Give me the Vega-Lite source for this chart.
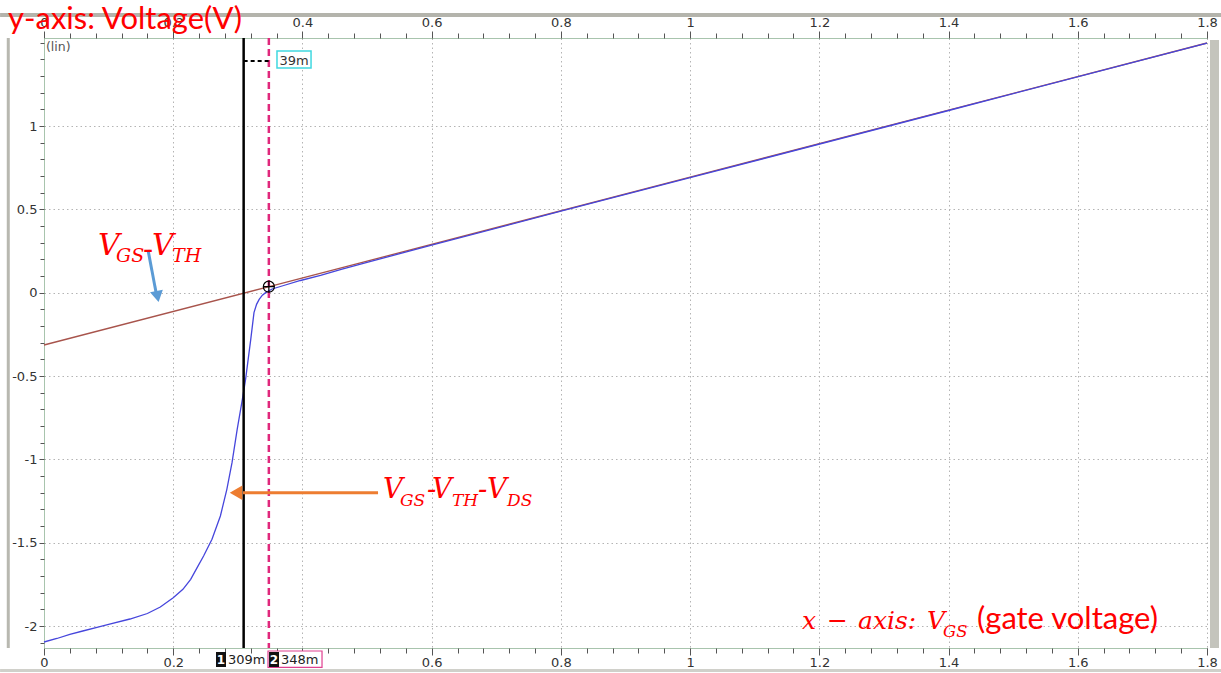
{
  "$schema": "https://vega.github.io/schema/vega-lite/v6.json",
  "width": 1163,
  "height": 610,
  "padding": {"left": 44, "top": 38, "right": 14, "bottom": 25},
  "autosize": {"type": "none"},
  "background": "white",
  "config": {
    "view": {"stroke": null},
    "axis": {"labelFont": "DejaVu Sans", "labelFontSize": 13, "labelColor": "#333333", "tickColor": "#555555", "domainColor": "#a8c4ad", "gridColor": "#b4b4b4", "gridDash": [1.5, 3], "labelFlush": false, "labelOverlap": false}
  },
  "datasets": {
    "red": [{"x": 0, "y": -0.314}, {"x": 0.35, "y": 0.038}, {"x": 1.0, "y": 0.693}, {"x": 1.8, "y": 1.498}],
    "blue": [
      {"x": 0, "y": -2.096}, {"x": 0.02, "y": -2.075}, {"x": 0.04, "y": -2.05}, {"x": 0.06, "y": -2.03}, {"x": 0.082, "y": -2.008}, {"x": 0.1, "y": -1.99}, {"x": 0.133, "y": -1.958}, {"x": 0.16, "y": -1.925}, {"x": 0.18, "y": -1.886}, {"x": 0.2, "y": -1.83}, {"x": 0.215, "y": -1.78}, {"x": 0.227, "y": -1.72}, {"x": 0.237, "y": -1.65}, {"x": 0.247, "y": -1.58}, {"x": 0.26, "y": -1.48}, {"x": 0.273, "y": -1.34}, {"x": 0.283, "y": -1.18}, {"x": 0.291, "y": -1.02}, {"x": 0.299, "y": -0.82}, {"x": 0.307, "y": -0.64}, {"x": 0.312, "y": -0.52}, {"x": 0.316, "y": -0.4}, {"x": 0.32, "y": -0.28}, {"x": 0.325, "y": -0.12}, {"x": 0.329, "y": -0.07}, {"x": 0.333, "y": -0.04}, {"x": 0.338, "y": -0.015}, {"x": 0.343, "y": 0.0}, {"x": 0.353, "y": 0.022}, {"x": 0.371, "y": 0.043}, {"x": 0.397, "y": 0.073}, {"x": 0.428, "y": 0.104}, {"x": 0.46, "y": 0.14}, {"x": 0.5, "y": 0.182}, {"x": 0.6, "y": 0.285}, {"x": 0.8, "y": 0.489}, {"x": 1.0, "y": 0.69}, {"x": 1.4, "y": 1.093}, {"x": 1.8, "y": 1.497}
    ],
    "cur1": [{"x": 0.309}],
    "cur2": [{"x": 0.348}],
    "delta": [{"x": 0.309, "x2": 0.348, "y": 1.39, "y2": 1.39}],
    "deltaBox": [{"x": 0.3606, "x2": 0.4133, "y": 1.45, "y2": 1.348}],
    "deltaText": [{"x": 0.387, "y": 1.365, "t": "39m"}],
    "marker": [{"x": 0.348, "y": 0.036}],
    "lin": [{"x": 0.003, "y": 1.45, "t": "(lin)"}],
    "frameTop": [{"x": -0.068, "x2": 1.822, "y": 1.666, "y2": 1.666}],
    "frameBottom": [{"x": -0.068, "x2": 1.822, "y": -2.267, "y2": -2.267}],
    "frameLeft": [{"x": -0.0553, "x2": -0.0553, "y": 1.528, "y2": -2.132}],
    "frameRight": [{"x": 1.8116, "x2": 1.8116, "y": 1.516, "y2": -2.132}],
    "blueShaft": [{"x": 0.161, "x2": 0.1733, "y": 0.256, "y2": 0.004}],
    "blueHead": [{"x": 0.1757, "y": -0.023}],
    "orangeShaft": [{"x": 0.308, "x2": 0.517, "y": -1.2, "y2": -1.2}],
    "orangeHead": [{"x": 0.2972, "y": -1.2}],
    "t1main": [{"x": 0.0836, "y": 0.226, "t": "V"}, {"x": 0.1672, "y": 0.226, "t": "V"}],
    "t1dash": [{"x": 0.1532, "y": 0.202, "t": "-"}],
    "t1sub": [{"x": 0.1114, "y": 0.184, "t": "GS"}, {"x": 0.1981, "y": 0.184, "t": "TH"}],
    "t2main": [{"x": 0.5247, "y": -1.232, "t": "V"}, {"x": 0.5928, "y": -1.232, "t": "-"}, {"x": 0.6005, "y": -1.232, "t": "V"}, {"x": 0.6717, "y": -1.232, "t": "-"}, {"x": 0.6857, "y": -1.232, "t": "V"}],
    "t2sub": [{"x": 0.551, "y": -1.278, "t": "GS"}, {"x": 0.6315, "y": -1.278, "t": "TH"}, {"x": 0.7166, "y": -1.278, "t": "DS"}],
    "t3main": [{"x": 1.1732, "y": -2.02, "t": "x"}, {"x": 1.2119, "y": -2.02, "t": "−"}, {"x": 1.2599, "y": -2.02, "t": "axis:"}, {"x": 1.3667, "y": -2.02, "t": "V"}],
    "t3sub": [{"x": 1.3914, "y": -2.064, "t": "GS"}],
    "t3sans": [{"x": 1.444, "y": -2.02, "t": "(gate voltage)"}],
    "title": [{"x": -0.0557, "y": 1.58, "t": "y-axis: Voltage(V)"}],
    "curBoxBlack": [{"x": 0.2662, "x2": 0.2817, "y": -2.156, "y2": -2.246}, {"x": 0.3483, "x2": 0.3637, "y": -2.156, "y2": -2.246}],
    "curBoxPink": [{"x": 0.3467, "x2": 0.4303, "y": -2.15, "y2": -2.248}],
    "curNum": [{"x": 0.274, "y": -2.228, "t": "1"}, {"x": 0.356, "y": -2.228, "t": "2"}],
    "curVal": [{"x": 0.2848, "y": -2.228, "t": "309m"}, {"x": 0.3668, "y": -2.228, "t": "348m"}]
  },
  "layer": [
    {"data": {"name": "frameTop"}, "mark": {"type": "rule", "color": "#b4b4ac", "strokeWidth": 4},
     "encoding": {"x": {"field": "x", "type": "quantitative", "scale": {"domain": [0, 1.8], "nice": false, "zero": false}, "axis": null}, "x2": {"field": "x2"}, "y": {"field": "y", "type": "quantitative", "scale": {"domain": [-2.132, 1.528], "nice": false, "zero": false}, "axis": null}, "y2": {"field": "y2"}}},
    {"data": {"name": "frameBottom"}, "mark": {"type": "rule", "color": "#d0d0ca", "strokeWidth": 3},
     "encoding": {"x": {"field": "x", "type": "quantitative", "axis": null}, "x2": {"field": "x2"}, "y": {"field": "y", "type": "quantitative", "axis": null}, "y2": {"field": "y2"}}},
    {"data": {"name": "frameLeft"}, "mark": {"type": "rule", "color": "#b8b8b0", "strokeWidth": 3},
     "encoding": {"x": {"field": "x", "type": "quantitative", "axis": null}, "x2": {"field": "x2"}, "y": {"field": "y", "type": "quantitative", "axis": null}, "y2": {"field": "y2"}}},
    {"data": {"name": "frameRight"}, "mark": {"type": "rule", "color": "#c4c4bc", "strokeWidth": 9},
     "encoding": {"x": {"field": "x", "type": "quantitative", "axis": null}, "x2": {"field": "x2"}, "y": {"field": "y", "type": "quantitative", "axis": null}, "y2": {"field": "y2"}}},
    {"data": {"name": "red"}, "mark": {"type": "line", "color": "#a8544c", "strokeWidth": 1.3},
     "encoding": {
       "x": {"field": "x", "type": "quantitative", "scale": {"domain": [0, 1.8], "nice": false, "zero": false},
             "axis": {"orient": "bottom", "values": [0, 0.2, 0.4, 0.6, 0.8, 1, 1.2, 1.4, 1.6, 1.8], "labelExpr": "datum.value == 0.4 ? '' : '' + datum.value", "grid": true, "tickSize": 7, "labelPadding": 1, "title": null}},
       "y": {"field": "y", "type": "quantitative", "scale": {"domain": [-2.132, 1.528], "nice": false, "zero": false},
             "axis": {"orient": "left", "values": [-2, -1.5, -1, -0.5, 0, 0.5, 1], "labelExpr": "'' + datum.value", "grid": true, "tickSize": 5, "labelPadding": 2, "title": null}}}},
    {"data": {"name": "blue"}, "mark": {"type": "line", "color": "#4646dc", "strokeWidth": 1.3},
     "encoding": {
       "x": {"field": "x", "type": "quantitative",
             "axis": {"orient": "bottom", "values": [0, 0.04, 0.08, 0.12, 0.16, 0.2, 0.24, 0.28, 0.32, 0.36, 0.4, 0.44, 0.48, 0.52, 0.56, 0.6, 0.64, 0.68, 0.72, 0.76, 0.8, 0.84, 0.88, 0.92, 0.96, 1, 1.04, 1.08, 1.12, 1.16, 1.2, 1.24, 1.28, 1.32, 1.36, 1.4, 1.44, 1.48, 1.52, 1.56, 1.6, 1.64, 1.68, 1.72, 1.76, 1.8], "labels": false, "grid": false, "domain": false, "tickSize": 5, "title": null}},
       "y": {"field": "y", "type": "quantitative",
             "axis": {"orient": "left", "values": [-2.1, -2, -1.9, -1.8, -1.7, -1.6, -1.5, -1.4, -1.3, -1.2, -1.1, -1, -0.9, -0.8, -0.7, -0.6, -0.5, -0.4, -0.3, -0.2, -0.1, 0, 0.1, 0.2, 0.3, 0.4, 0.5, 0.6, 0.7, 0.8, 0.9, 1, 1.1, 1.2, 1.3, 1.4, 1.5], "labels": false, "grid": false, "domain": false, "tickSize": 4, "title": null}}}},
    {"data": {"name": "cur1"}, "mark": {"type": "rule", "color": "#000000", "strokeWidth": 2.5},
     "encoding": {"x": {"field": "x", "type": "quantitative",
       "axis": {"orient": "top", "values": [0, 0.2, 0.4, 0.6, 0.8, 1, 1.2, 1.4, 1.6, 1.8], "labelExpr": "'' + datum.value", "grid": false, "tickSize": 7, "labelPadding": 2, "title": null}}}},
    {"data": {"name": "cur2"}, "mark": {"type": "rule", "color": "#e0287c", "strokeWidth": 2.5, "strokeDash": [7, 4]},
     "encoding": {"x": {"field": "x", "type": "quantitative",
       "axis": {"orient": "top", "values": [0, 0.04, 0.08, 0.12, 0.16, 0.2, 0.24, 0.28, 0.32, 0.36, 0.4, 0.44, 0.48, 0.52, 0.56, 0.6, 0.64, 0.68, 0.72, 0.76, 0.8, 0.84, 0.88, 0.92, 0.96, 1, 1.04, 1.08, 1.12, 1.16, 1.2, 1.24, 1.28, 1.32, 1.36, 1.4, 1.44, 1.48, 1.52, 1.56, 1.6, 1.64, 1.68, 1.72, 1.76, 1.8], "labels": false, "grid": false, "domain": false, "tickSize": 5, "title": null}}}},
    {"data": {"name": "delta"}, "mark": {"type": "rule", "color": "#000000", "strokeWidth": 2, "strokeDash": [4, 3]},
     "encoding": {"x": {"field": "x", "type": "quantitative", "axis": null}, "x2": {"field": "x2"}, "y": {"field": "y", "type": "quantitative", "axis": null}, "y2": {"field": "y2"}}},
    {"data": {"name": "deltaBox"}, "mark": {"type": "rect", "fill": "white", "stroke": "#40d8e0", "strokeWidth": 1.5},
     "encoding": {"x": {"field": "x", "type": "quantitative", "axis": null}, "x2": {"field": "x2"}, "y": {"field": "y", "type": "quantitative", "axis": null}, "y2": {"field": "y2"}}},
    {"data": {"name": "deltaText"}, "mark": {"type": "text", "font": "DejaVu Sans", "fontSize": 13, "color": "#333333", "align": "center", "baseline": "alphabetic"},
     "encoding": {"x": {"field": "x", "type": "quantitative", "axis": null}, "y": {"field": "y", "type": "quantitative", "axis": null}, "text": {"field": "t"}}},
    {"data": {"name": "lin"}, "mark": {"type": "text", "font": "DejaVu Sans", "fontSize": 12.5, "color": "#555555", "align": "left", "baseline": "alphabetic"},
     "encoding": {"x": {"field": "x", "type": "quantitative", "axis": null}, "y": {"field": "y", "type": "quantitative", "axis": null}, "text": {"field": "t"}}},
    {"data": {"name": "marker"}, "mark": {"type": "point", "shape": "circle", "filled": false, "stroke": "#000000", "strokeWidth": 1.2, "size": 121, "opacity": 1},
     "encoding": {"x": {"field": "x", "type": "quantitative", "axis": null}, "y": {"field": "y", "type": "quantitative", "axis": null}}},
    {"data": {"name": "marker"}, "mark": {"type": "point", "shape": "M-1,0H1M0,-1V1", "filled": false, "stroke": "#000000", "strokeWidth": 1.2, "size": 121, "opacity": 1},
     "encoding": {"x": {"field": "x", "type": "quantitative", "axis": null}, "y": {"field": "y", "type": "quantitative", "axis": null}}},
    {"data": {"name": "blueShaft"}, "mark": {"type": "rule", "color": "#5b9bd5", "strokeWidth": 3},
     "encoding": {"x": {"field": "x", "type": "quantitative", "axis": null}, "x2": {"field": "x2"}, "y": {"field": "y", "type": "quantitative", "axis": null}, "y2": {"field": "y2"}}},
    {"data": {"name": "blueHead"}, "mark": {"type": "point", "shape": "triangle-down", "filled": true, "color": "#5b9bd5", "size": 170, "angle": 349, "opacity": 1},
     "encoding": {"x": {"field": "x", "type": "quantitative", "axis": null}, "y": {"field": "y", "type": "quantitative", "axis": null}}},
    {"data": {"name": "orangeShaft"}, "mark": {"type": "rule", "color": "#ed7d31", "strokeWidth": 3},
     "encoding": {"x": {"field": "x", "type": "quantitative", "axis": null}, "x2": {"field": "x2"}, "y": {"field": "y", "type": "quantitative", "axis": null}, "y2": {"field": "y2"}}},
    {"data": {"name": "orangeHead"}, "mark": {"type": "point", "shape": "triangle-left", "filled": true, "color": "#ed7d31", "size": 210, "opacity": 1},
     "encoding": {"x": {"field": "x", "type": "quantitative", "axis": null}, "y": {"field": "y", "type": "quantitative", "axis": null}}},
    {"data": {"name": "t1main"}, "mark": {"type": "text", "font": "DejaVu Serif", "fontStyle": "italic", "fontSize": 30, "color": "#ff0000", "align": "left", "baseline": "alphabetic"},
     "encoding": {"x": {"field": "x", "type": "quantitative", "axis": null}, "y": {"field": "y", "type": "quantitative", "axis": null}, "text": {"field": "t"}}},
    {"data": {"name": "t1dash"}, "mark": {"type": "text", "font": "DejaVu Serif", "fontSize": 30, "color": "#ff0000", "align": "left", "baseline": "alphabetic"},
     "encoding": {"x": {"field": "x", "type": "quantitative", "axis": null}, "y": {"field": "y", "type": "quantitative", "axis": null}, "text": {"field": "t"}}},
    {"data": {"name": "t1sub"}, "mark": {"type": "text", "font": "DejaVu Serif", "fontStyle": "italic", "fontSize": 19, "color": "#ff0000", "align": "left", "baseline": "alphabetic"},
     "encoding": {"x": {"field": "x", "type": "quantitative", "axis": null}, "y": {"field": "y", "type": "quantitative", "axis": null}, "text": {"field": "t"}}},
    {"data": {"name": "t2main"}, "mark": {"type": "text", "font": "DejaVu Serif", "fontStyle": "italic", "fontSize": 27.5, "color": "#ff0000", "align": "left", "baseline": "alphabetic"},
     "encoding": {"x": {"field": "x", "type": "quantitative", "axis": null}, "y": {"field": "y", "type": "quantitative", "axis": null}, "text": {"field": "t"}}},
    {"data": {"name": "t2sub"}, "mark": {"type": "text", "font": "DejaVu Serif", "fontStyle": "italic", "fontSize": 17, "color": "#ff0000", "align": "left", "baseline": "alphabetic"},
     "encoding": {"x": {"field": "x", "type": "quantitative", "axis": null}, "y": {"field": "y", "type": "quantitative", "axis": null}, "text": {"field": "t"}}},
    {"data": {"name": "t3main"}, "mark": {"type": "text", "font": "DejaVu Serif", "fontStyle": "italic", "fontSize": 25, "color": "#ff0000", "align": "left", "baseline": "alphabetic"},
     "encoding": {"x": {"field": "x", "type": "quantitative", "axis": null}, "y": {"field": "y", "type": "quantitative", "axis": null}, "text": {"field": "t"}}},
    {"data": {"name": "t3sub"}, "mark": {"type": "text", "font": "DejaVu Serif", "fontStyle": "italic", "fontSize": 16.5, "color": "#ff0000", "align": "left", "baseline": "alphabetic"},
     "encoding": {"x": {"field": "x", "type": "quantitative", "axis": null}, "y": {"field": "y", "type": "quantitative", "axis": null}, "text": {"field": "t"}}},
    {"data": {"name": "t3sans"}, "mark": {"type": "text", "font": "Lato", "fontSize": 31, "color": "#ff0000", "align": "left", "baseline": "alphabetic"},
     "encoding": {"x": {"field": "x", "type": "quantitative", "axis": null}, "y": {"field": "y", "type": "quantitative", "axis": null}, "text": {"field": "t"}}},
    {"data": {"name": "title"}, "mark": {"type": "text", "font": "Lato", "fontSize": 31, "color": "#ff0000", "align": "left", "baseline": "alphabetic"},
     "encoding": {"x": {"field": "x", "type": "quantitative", "axis": null}, "y": {"field": "y", "type": "quantitative", "axis": null}, "text": {"field": "t"}}},
    {"data": {"name": "curBoxPink"}, "mark": {"type": "rect", "fill": "white", "stroke": "#e04090", "strokeWidth": 1.2},
     "encoding": {"x": {"field": "x", "type": "quantitative", "axis": null}, "x2": {"field": "x2"}, "y": {"field": "y", "type": "quantitative", "axis": null}, "y2": {"field": "y2"}}},
    {"data": {"name": "curBoxBlack"}, "mark": {"type": "rect", "fill": "#111111"},
     "encoding": {"x": {"field": "x", "type": "quantitative", "axis": null}, "x2": {"field": "x2"}, "y": {"field": "y", "type": "quantitative", "axis": null}, "y2": {"field": "y2"}}},
    {"data": {"name": "curNum"}, "mark": {"type": "text", "font": "DejaVu Sans", "fontSize": 12, "fontWeight": "bold", "color": "white", "align": "center", "baseline": "alphabetic"},
     "encoding": {"x": {"field": "x", "type": "quantitative", "axis": null}, "y": {"field": "y", "type": "quantitative", "axis": null}, "text": {"field": "t"}}},
    {"data": {"name": "curVal"}, "mark": {"type": "text", "font": "DejaVu Sans", "fontSize": 13, "color": "#222222", "align": "left", "baseline": "alphabetic"},
     "encoding": {"x": {"field": "x", "type": "quantitative", "axis": null}, "y": {"field": "y", "type": "quantitative", "axis": null}, "text": {"field": "t"}}}
  ],
  "resolve": {"axis": {"x": "independent", "y": "independent"}}
}
